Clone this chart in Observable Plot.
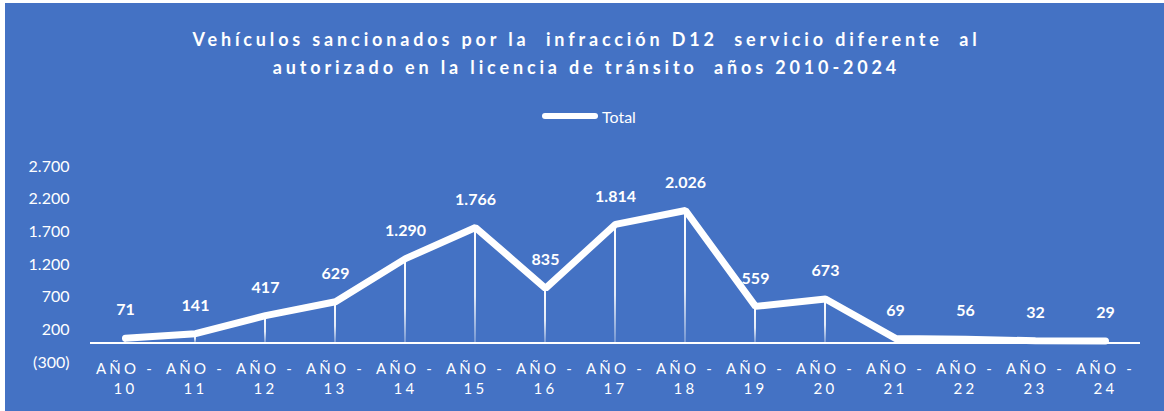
<!DOCTYPE html>
<html>
<head>
<meta charset="utf-8">
<script src="https://cdn.jsdelivr.net/npm/d3@7"></script>
<script src="https://cdn.jsdelivr.net/npm/@observablehq/plot@0.6"></script>
<style>
  html, body { margin: 0; padding: 0; background: #ffffff; }
  #card {
    position: absolute; left: 5px; top: 3px; width: 1159px; height: 408px;
    background: #4472C4; font-family: Lato, "Open Sans", sans-serif; color: #ffffff; overflow: hidden;
  }
  #title {
    position: absolute; left: 2px; top: 22px; width: 100%; text-align: center;
    font-weight: bold; font-size: 18px; letter-spacing: 3.85px; line-height: 28px; white-space: pre;
  }
  #legend {
    position: absolute; top: 101px; left: 537px; height: 24px; display: flex; align-items: center;
    font-size: 16px;
  }
  #legend .swatch { width: 56px; height: 6px; background: #fff; border-radius: 3px; margin-right: 4px; }
  #chart { position: absolute; left: 0; top: 137px; }
  #chart g[aria-label="x-axis tick label"] text { letter-spacing: 3.2px; }
</style>
</head>
<body>
<div id="card">
  <div id="title">Vehículos sancionados por la  infracción D12  servicio diferente  al
autorizado en la licencia de tránsito  años 2010-2024</div>
  <div id="legend"><span class="swatch"></span><span>Total</span></div>
  <div id="chart"></div>
</div>
<script>
const years = ["10","11","12","13","14","15","16","17","18","19","20","21","22","23","24"];
const totals = [71, 141, 417, 629, 1290, 1766, 835, 1814, 2026, 559, 673, 69, 56, 32, 29];
const yTicks = [-300, 200, 700, 1200, 1700, 2200, 2700];

const data = years.map((y, i) => ({year: y, value: totals[i]}));

const loc = d3.formatLocale({decimal: ",", thousands: ".", grouping: [3], currency: ["", ""]});
const f = loc.format(",d");
const fmt = v => v < 0 ? "(" + f(-v) + ")" : f(v);

const W = 1159, H = 271, ML = 85, MR = 24;
const bw = (W - ML - MR) / years.length;
const inset = (bw - 2) / 2;

const chart = Plot.plot({
  width: W,
  height: H,
  marginLeft: ML,
  marginRight: MR,
  marginTop: 26,
  marginBottom: 49,
  style: {background: "transparent", color: "#ffffff", fontFamily: "Lato, 'Open Sans', sans-serif", fontSize: "16px", overflow: "visible"},
  x: {type: "band", domain: years, padding: 0},
  y: {domain: [-300, 2700]},
  marks: [
    Plot.axisY({ticks: yTicks, tickFormat: fmt, tickSize: 0, tickPadding: 21, fill: "#ffffff", fontSize: 16, label: null}),
    Plot.axisX({tickFormat: d => "AÑO -\n" + d, tickSize: 0, tickPadding: -3, lineHeight: 1.35, fill: "#ffffff", fontSize: 15, label: null, lineAnchor: "top"}),
    Plot.barY(data, {x: "year", y1: 0, y2: "value", fill: "url(#fade)", insetLeft: inset, insetRight: inset}),
    Plot.ruleY([0], {stroke: "#ffffff", strokeWidth: 2}),
    Plot.line(data, {x: "year", y: "value", stroke: "#ffffff", strokeWidth: 7, strokeLinejoin: "miter", strokeLinecap: "round"}),
    Plot.text(data, {x: "year", y: "value", text: d => fmt(d.value), dy: -28, fill: "#ffffff", fontWeight: "bold", fontSize: 16})
  ]
});

const defs = d3.select(chart).insert("defs", ":first-child");
const g = defs.append("linearGradient").attr("id", "fade").attr("x1", 0).attr("y1", 0).attr("x2", 0).attr("y2", 1);
g.append("stop").attr("offset", "0%").attr("stop-color", "#ffffff").attr("stop-opacity", 1);
g.append("stop").attr("offset", "60%").attr("stop-color", "#ffffff").attr("stop-opacity", 0.85);
g.append("stop").attr("offset", "100%").attr("stop-color", "#ffffff").attr("stop-opacity", 0.25);

document.getElementById("chart").appendChild(chart);
</script>
</body>
</html>
